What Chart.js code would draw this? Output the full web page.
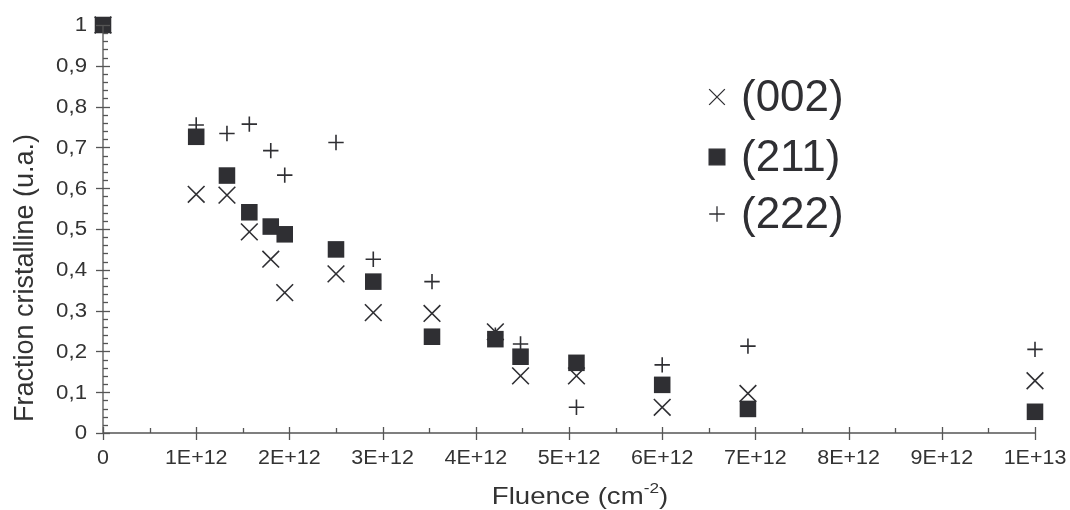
<!DOCTYPE html>
<html>
<head>
<meta charset="utf-8">
<script src="https://cdn.jsdelivr.net/npm/chart.js@4"></script>
<style>
html,body{margin:0;padding:0;background:#fff;}
#wrap{width:1070px;height:510px;position:relative;}
</style>
</head>
<body>
<div id="wrap"><canvas id="c" width="1070" height="510"></canvas></div>
<script>
// ---- data ----
const fluence = [0, 1.0e12, 1.33e12, 1.57e12, 1.80e12, 1.95e12, 2.50e12, 2.90e12, 3.53e12, 4.21e12, 4.48e12, 5.08e12, 6.00e12, 6.92e12, 1.0e13];
const s002 = [1, 0.585, 0.583, 0.493, 0.426, 0.344, 0.390, 0.295, 0.293, 0.248, 0.140, 0.140, 0.063, 0.097, 0.128];
const s211 = [1, 0.726, 0.631, 0.541, 0.506, 0.487, 0.450, 0.371, 0.236, 0.230, 0.187, 0.172, 0.118, 0.059, 0.052];
const s222 = [1, 0.755, 0.734, 0.757, 0.692, 0.632, 0.712, 0.426, 0.371, 0.240, 0.218, 0.063, 0.167, 0.213, 0.205];
const seriesLabels = ['(002)', '(211)', '(222)'];
const xTickValues = [0,1e12,2e12,3e12,4e12,5e12,6e12,7e12,8e12,9e12,1e13];
const yTickValues = [0,0.1,0.2,0.3,0.4,0.5,0.6,0.7,0.8,0.9,1];
const xTitle = 'Fluence (cm';
const xTitleSup = '-2';
const yTitle = 'Fraction cristalline (u.a.)';

const INK = '#2f2f33';
const TXT = '#333333';
const AXIS = '#555555';
const FONT = 'Arial, "Liberation Sans", Helvetica, sans-serif';

const pts = (ys) => fluence.map((x, i) => ({x: x, y: ys[i]}));

const styles = [
  {pointStyle: 'crossRot', radius: 11.8, borderWidth: 1.6, order: 2},
  {pointStyle: 'rect', radius: 11.7, borderWidth: 0, order: 0},
  {pointStyle: 'cross', radius: 7.7, borderWidth: 1.6, order: 1}
];
const seriesData = [s002, s211, s222];

const datasets = seriesData.map((s, i) => ({
  label: seriesLabels[i],
  data: pts(s),
  showLine: false,
  pointStyle: styles[i].pointStyle,
  pointRadius: styles[i].radius,
  pointHoverRadius: styles[i].radius,
  pointBorderWidth: styles[i].borderWidth,
  pointBackgroundColor: INK,
  pointBorderColor: INK,
  order: styles[i].order,
  clip: false
}));

function fmtX(v) {
  if (v === 0) return '0';
  const e = Math.floor(Math.log10(v) + 1e-9);
  const m = Math.round(v / Math.pow(10, e));
  return m + 'E+' + e;
}
function fmtY(v) {
  if (Math.abs(v) < 1e-9) return '0';
  if (Math.abs(v - 1) < 1e-9) return '1';
  return v.toFixed(1).replace('.', ',');
}

// text with horizontal stretch
function sText(ctx, text, x, y, size, align, baseline, stretch) {
  ctx.save();
  ctx.font = size + 'px ' + FONT;
  ctx.textBaseline = baseline;
  ctx.textAlign = 'left';
  const w = ctx.measureText(text).width * stretch;
  let sx = x;
  if (align === 'center') sx = x - w / 2;
  else if (align === 'right') sx = x - w;
  ctx.translate(sx, y);
  ctx.scale(stretch, 1);
  ctx.fillText(text, 0, 0);
  ctx.restore();
  return w;
}

const decor = {
  id: 'decor',
  afterDraw(chart) {
    const ctx = chart.ctx;
    const xs = chart.scales.x, ys = chart.scales.y;
    const x0 = xs.getPixelForValue(0), y0 = ys.getPixelForValue(0);
    ctx.save();
    ctx.strokeStyle = AXIS;
    ctx.lineWidth = 1.3;
    ctx.beginPath();
    ctx.moveTo(x0, ys.getPixelForValue(1));
    ctx.lineTo(x0, y0);
    ctx.lineTo(xs.getPixelForValue(1e13), y0);
    ctx.stroke();
    for (let k = 0; k <= 50; k++) {
      const v = k * 0.02;
      const py = Math.round(ys.getPixelForValue(v)) + 0.5;
      ctx.beginPath();
      if (k % 5 === 0) { ctx.moveTo(x0 - 7, py); ctx.lineTo(x0 + 7, py); }
      else { ctx.moveTo(x0, py); ctx.lineTo(x0 + 5, py); }
      ctx.stroke();
    }
    for (let k = 0; k <= 20; k++) {
      const v = k * 0.5e12;
      const px = Math.round(xs.getPixelForValue(v)) + 0.5;
      ctx.beginPath();
      if (k % 2 === 0) { ctx.moveTo(px, y0 - 6); ctx.lineTo(px, y0 + 7); }
      else { ctx.moveTo(px, y0 - 5); ctx.lineTo(px, y0); }
      ctx.stroke();
    }
    ctx.fillStyle = TXT;
    // tick labels
    yTickValues.forEach(v => {
      sText(ctx, fmtY(v), 87, ys.getPixelForValue(v) + 1, 19.5, 'right', 'middle', 1.14);
    });
    xTickValues.forEach(v => {
      sText(ctx, fmtX(v), xs.getPixelForValue(v), 459, 19.5, 'center', 'middle', 1.1);
    });
    // x title with superscript
    const st = 1.15;
    ctx.font = '24px ' + FONT;
    const w1 = ctx.measureText(xTitle).width * st;
    ctx.font = '15px ' + FONT;
    const w2 = ctx.measureText(xTitleSup).width * st;
    ctx.font = '24px ' + FONT;
    const w3 = ctx.measureText(')').width * st;
    const tot = w1 + w2 + w3;
    const cx = 580, by = 504;
    let sx = cx - tot / 2;
    sText(ctx, xTitle, sx, by, 24, 'left', 'alphabetic', st);
    sText(ctx, xTitleSup, sx + w1, by - 11, 15, 'left', 'alphabetic', st);
    sText(ctx, ')', sx + w1 + w2, by, 24, 'left', 'alphabetic', st);
    // y title
    ctx.save();
    ctx.translate(26, 278);
    ctx.rotate(-Math.PI / 2);
    ctx.textAlign = 'center';
    ctx.textBaseline = 'middle';
    ctx.font = '27px ' + FONT;
    ctx.fillText(yTitle, 0, 0);
    ctx.restore();
    // legend
    const lx = 717, ly = [97, 157, 214];
    chart.data.datasets.forEach((ds, i) => {
      ctx.fillStyle = INK;
      ctx.strokeStyle = INK;
      const s = styles[i];
      const r = s.pointStyle === 'cross' ? 7.8 : 11.1;
      Chart.helpers.drawPoint(ctx, {pointStyle: s.pointStyle, radius: r, rotation: 0, borderWidth: s.borderWidth || 1.3}, lx, ly[i]);
      ctx.fillStyle = INK;
      ctx.font = '44px ' + FONT;
      ctx.textAlign = 'left';
      ctx.textBaseline = 'middle';
      ctx.fillText(ds.label, 741, ly[i] + 2);
    });
    ctx.restore();
  }
};

new Chart(document.getElementById('c'), {
  type: 'scatter',
  data: {datasets},
  options: {
    responsive: false,
    animation: false,
    events: [],
    layout: {padding: {top: 25, right: 35, left: 0, bottom: 0}},
    plugins: {legend: {display: false}, tooltip: {enabled: false}},
    scales: {
      x: {
        type: 'linear', min: 0, max: 1e13,
        afterBuildTicks(s) { s.ticks = xTickValues.map(v => ({value: v})); },
        afterFit(s) { s.height = 77; },
        grid: {display: false, drawTicks: false},
        border: {display: false},
        ticks: {display: false}
      },
      y: {
        type: 'linear', min: 0, max: 1,
        afterBuildTicks(s) { s.ticks = yTickValues.map(v => ({value: v})); },
        afterFit(s) { s.width = 103; },
        grid: {display: false, drawTicks: false},
        border: {display: false},
        ticks: {display: false}
      }
    }
  },
  plugins: [decor]
});
</script>
</body>
</html>
